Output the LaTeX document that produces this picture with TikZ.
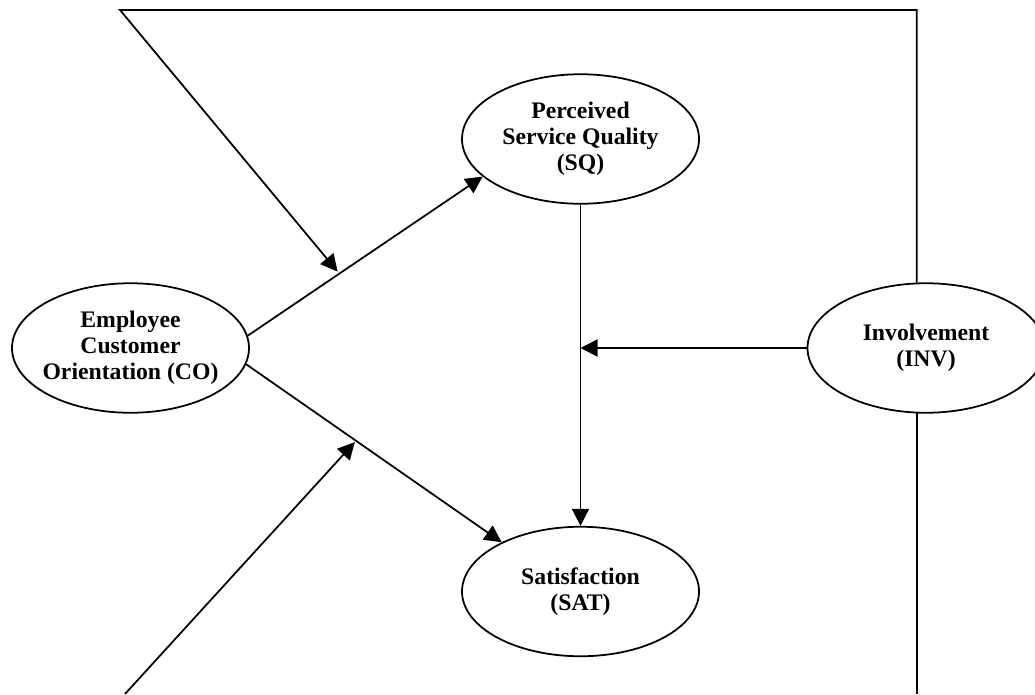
\documentclass[tikz,border=0pt]{standalone}
\usepackage{fontspec}
\setmainfont{Liberation Serif}
\usepackage{tikz}
\usetikzlibrary{arrows.meta,%
                positioning,%
                shapes.geometric}

\begin{document}
\begin{tikzpicture}[auto, on grid, line width=1pt, >={Triangle[length=3.4mm,width=3.4mm]},
                    main node/.style={draw,ellipse,align=center,
                                      font=\bfseries\fontsize{13.5}{14.7}\selectfont,
                                      minimum width=4.74cm,minimum height=2.59cm,
                                      inner xsep=-0.6cm,inner ysep=0pt}]
  \useasboundingbox (0,0) rectangle (20.7,-13.88);

  \node[main node] (CO) at (2.61,-6.96) {Employee\\Customer\\Orientation (CO)};
  \node[main node] (SQ) [above right=4.18cm and 9cm of CO] {Perceived\\Service Quality\\(SQ)};
  \node[main node] (SAT) [below right=4.87cm and 9cm of CO] {Satisfaction\\(SAT)};
  \node[main node] (INV) [right=15.91cm of CO] {Involvement\\(INV)};

  \coordinate (tl) at (2.4,-0.2);
  \coordinate (bl) at (2.5,-13.88);

  \draw[->] (CO.6) -- coordinate[pos=0.39] (m1) (SQ.201);
  \draw[->] (CO.-8) -- coordinate[pos=0.43] (m2) (SAT.148);
  \path[->]
    (SQ) edge (SAT)
    (INV.west) edge (INV.west -| SQ.south);

  \draw[->, shorten >=1.5pt] (INV.98) |- (tl) -- (m1);
  \draw[->, shorten >=1pt] (bl) -- (m2);
  \draw (INV.262) -- (INV.262 |- bl);
\end{tikzpicture}
\end{document}
